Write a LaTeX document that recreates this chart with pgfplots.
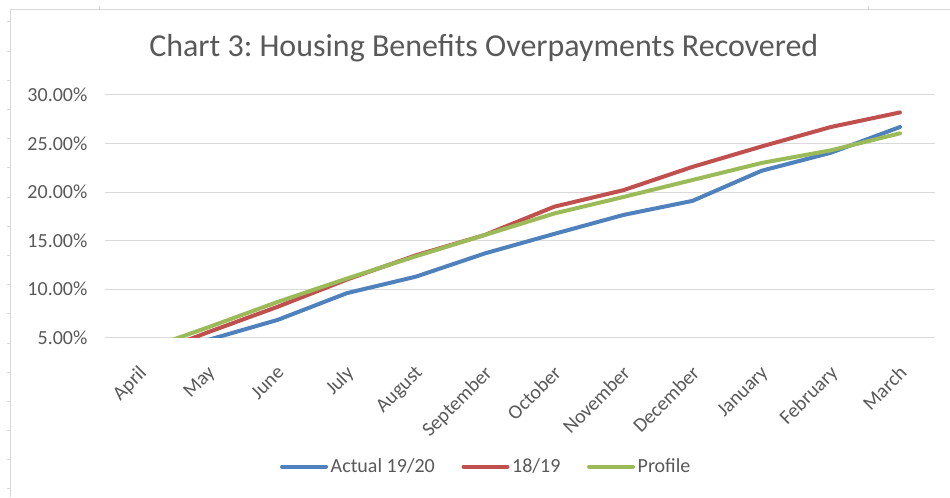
\documentclass[border=0pt]{standalone}
\usepackage{pgfplots}
\pgfplotsset{compat=1.18}
\usepackage{fontspec}
\setmainfont{Carlito}
\frenchspacing
\definecolor{cblue}{HTML}{4F81BD}
\definecolor{cred}{HTML}{C0504D}
\definecolor{cgreen}{HTML}{9BBB59}
\definecolor{ctext}{HTML}{595959}
\definecolor{cgrid}{HTML}{D9D9D9}
\begin{document}
\begin{tikzpicture}
% canvas / chart frame (1 px = 0.75pt, y downward negative)
\path (0pt,0pt) rectangle (712.5pt,-372.75pt);
\draw[cgrid, line width=0.75pt] (8.25pt,-372.75pt) -- (8.25pt,-7.5pt) -- (712.5pt,-7.5pt);
\foreach \k in {0,...,16} {\draw[cgrid, line width=0.75pt] (5.25pt,{-(22+29.2*\k)*0.75pt}) -- (8.25pt,{-(22+29.2*\k)*0.75pt});}
\draw[cgrid, line width=0.75pt] (75pt,-4.5pt) -- (75pt,-7.5pt);
\draw[cgrid, line width=0.75pt] (651.75pt,-4.5pt) -- (651.75pt,-7.5pt);
\node[text=ctext, font=\fontsize{24}{28}\selectfont, anchor=base] at (363pt,-42.75pt) {Chart 3: Housing Benefits Overpayments Recovered};
\begin{axis}[
  at={(78.75pt,-253.5pt)}, anchor=south west,
  scale only axis, width=622.5pt, height=182.25pt,
  xmin=-0.5, xmax=11.5, ymin=5, ymax=30,
  axis line style={draw=none},
  ytick={5,10,15,20,25,30},
  yticklabels={5.00\%,10.00\%,15.00\%,20.00\%,25.00\%,30.00\%},
  xtick={0,...,11},
  xticklabels={April,May,June,July,August,September,October,November,December,January,February,March},
  major tick length=0pt,
  ymajorgrids, grid style={cgrid, line width=0.75pt},
  tick label style={text=ctext, font=\fontsize{15}{17}\selectfont},
  yticklabel style={anchor=east, inner sep=0pt, xshift=-13pt},
  xticklabel style={rotate=45, anchor=north east, inner sep=0pt, xshift=-15pt, yshift=-13pt},
  legend columns=3,
  legend style={at={(0.46,-0.53)}, anchor=center, draw=none, fill=none,
    font=\fontsize{15}{17}\selectfont, text=ctext,
    /tikz/every even column/.append style={column sep=18pt}},
  legend image code/.code={\draw[#1] (0pt,0pt) -- (33pt,0pt);},
  every axis plot/.append style={line width=3pt, line join=round, line cap=round},
]
\addplot[cblue] coordinates {(0,2.5) (1,4.8) (2,6.85) (3,9.6) (4,11.3) (5,13.7) (6,15.7) (7,17.65) (8,19.1) (9,22.2) (10,24.05) (11,26.7)};
\addlegendentry{Actual 19/20}
\addplot[cred] coordinates {(0,2.9) (1,5.6) (2,8.2) (3,11.0) (4,13.5) (5,15.6) (6,18.5) (7,20.2) (8,22.6) (9,24.7) (10,26.7) (11,28.2)};
\addlegendentry{18/19}
\addplot[cgreen] coordinates {(0,3.6) (1,6.1) (2,8.7) (3,11.1) (4,13.4) (5,15.6) (6,17.8) (7,19.5) (8,21.25) (9,23.0) (10,24.3) (11,26.05)};
\addlegendentry{Profile}
\end{axis}
\end{tikzpicture}
\end{document}
